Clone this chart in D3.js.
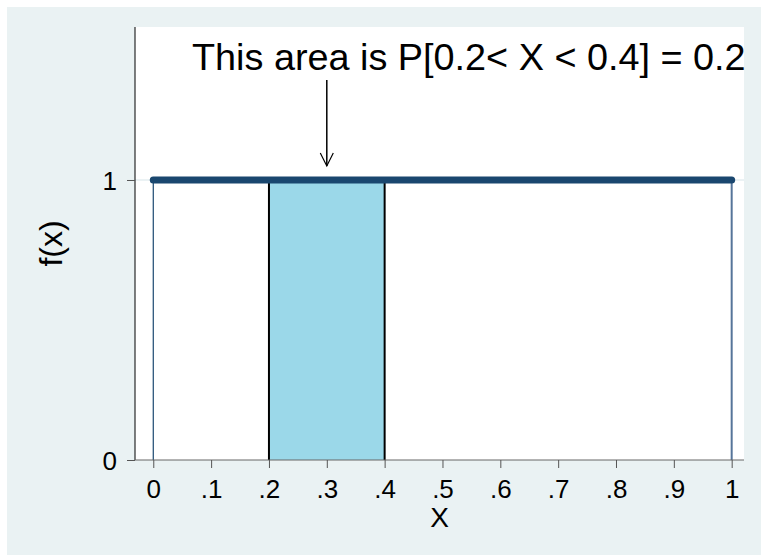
<!DOCTYPE html>
<html>
<head>
<meta charset="utf-8">
<script src="https://cdn.jsdelivr.net/npm/d3@7"></script>
<style>
  body { margin: 0; background: #ffffff; }
  text { font-family: "Liberation Sans", Arial, sans-serif; fill: #000; }
</style>
</head>
<body>
<script>
// chart values
const xTicks = [0, 0.1, 0.2, 0.3, 0.4, 0.5, 0.6, 0.7, 0.8, 0.9, 1];
const xTickLabels = ["0", ".1", ".2", ".3", ".4", ".5", ".6", ".7", ".8", ".9", "1"];
const yTicks = [0, 1];
const densityX = [0, 1];
const densityY = [1, 1];
const shadeFrom = 0.2;
const shadeTo = 0.4;
const arrowX = 0.3;
const titleText = "This area is P[0.2< X < 0.4] = 0.2";

const W = 761, H = 555;
const plot = { left: 135, right: 744, top: 27, bottom: 460 };

const svg = d3.select("body").append("svg")
    .attr("width", W)
    .attr("height", H);

// graph background + plot region
svg.append("rect")
    .attr("x", 7).attr("y", 7)
    .attr("width", W - 7).attr("height", H - 7)
    .attr("fill", "#eaf2f3");
svg.append("rect")
    .attr("x", plot.left).attr("y", plot.top)
    .attr("width", plot.right - plot.left).attr("height", plot.bottom - plot.top)
    .attr("fill", "#ffffff");

const x = d3.scaleLinear()
    .domain([-0.0316, 1.0213])
    .range([plot.left, plot.right]);

const y = d3.scaleLinear()
    .domain([0, 1.5464])
    .range([plot.bottom, plot.top]);

// gridline at 1
svg.append("line")
    .attr("x1", plot.left).attr("x2", plot.right)
    .attr("y1", y(1)).attr("y2", y(1))
    .attr("stroke", "#e4eef0")
    .attr("stroke-width", 1.5);

// shaded area
svg.append("rect")
    .attr("x", x(shadeFrom))
    .attr("y", y(1))
    .attr("width", x(shadeTo) - x(shadeFrom))
    .attr("height", y(0) - y(1))
    .attr("fill", "#9bd8e9");

[shadeFrom, shadeTo].forEach(v => {
    svg.append("line")
        .attr("x1", x(v)).attr("x2", x(v))
        .attr("y1", y(1)).attr("y2", y(0))
        .attr("stroke", "#000")
        .attr("stroke-width", 2);
});

// vertical drops at the ends of the support
svg.append("line")
    .attr("x1", x(densityX[0])).attr("x2", x(densityX[0]))
    .attr("y1", y(densityY[0])).attr("y2", y(0))
    .attr("stroke", "#1a476f").attr("stroke-width", 1.2);
svg.append("line")
    .attr("x1", x(densityX[1])).attr("x2", x(densityX[1]))
    .attr("y1", y(densityY[1])).attr("y2", y(0))
    .attr("stroke", "#56759a").attr("stroke-width", 2);

// density line
const line = d3.line().x(d => x(d[0])).y(d => y(d[1]));
svg.append("path")
    .datum(d3.zip(densityX, densityY))
    .attr("d", line)
    .attr("fill", "none")
    .attr("stroke", "#1a476f")
    .attr("stroke-width", 7)
    .attr("stroke-linecap", "round");

// y axis
const yAxis = d3.axisLeft(y)
    .tickValues(yTicks)
    .tickFormat(d3.format("d"))
    .tickSize(8)
    .tickPadding(10);
const gy = svg.append("g")
    .attr("transform", `translate(${plot.left},0)`)
    .call(yAxis);
gy.select(".domain")
    .attr("d", `M0,${plot.top}V${plot.bottom}`)
    .attr("stroke", "#000");
gy.selectAll(".tick line").attr("stroke", "#555");
gy.selectAll(".tick text")
    .attr("font-size", 26)
    .attr("font-family", "Liberation Sans, Arial, sans-serif")
    .attr("dy", "0.36em");

// x axis
const xAxis = d3.axisBottom(x)
    .tickValues(xTicks)
    .tickFormat((d, i) => xTickLabels[i])
    .tickSize(8)
    .tickPadding(12);
const gx = svg.append("g")
    .attr("transform", `translate(0,${plot.bottom})`)
    .call(xAxis);
gx.select(".domain")
    .attr("d", `M${plot.left},0H${plot.right}`)
    .attr("stroke", "#666");
gx.selectAll(".tick line").attr("stroke", "#555");
gx.selectAll(".tick text")
    .attr("font-size", 26)
    .attr("font-family", "Liberation Sans, Arial, sans-serif");

// axis titles
svg.append("text")
    .attr("x", (plot.left + plot.right) / 2)
    .attr("y", 527)
    .attr("text-anchor", "middle")
    .attr("font-size", 28)
    .text("X");

svg.append("text")
    .attr("transform", `translate(62,${(plot.top + plot.bottom) / 2}) rotate(-90)`)
    .attr("text-anchor", "middle")
    .attr("font-size", 32)
    .text("f(x)");

// annotation text and arrow
svg.append("text")
    .attr("x", 192)
    .attr("y", 70)
    .attr("font-size", 37.8)
    .text(titleText);

const ax = x(arrowX);
svg.append("line")
    .attr("x1", ax).attr("x2", ax)
    .attr("y1", 80).attr("y2", 166)
    .attr("stroke", "#000").attr("stroke-width", 1.5);
svg.append("path")
    .attr("d", `M${ax - 6.5},153L${ax},166L${ax + 6.5},153`)
    .attr("fill", "none")
    .attr("stroke", "#000")
    .attr("stroke-width", 1.2);
</script>
</body>
</html>
